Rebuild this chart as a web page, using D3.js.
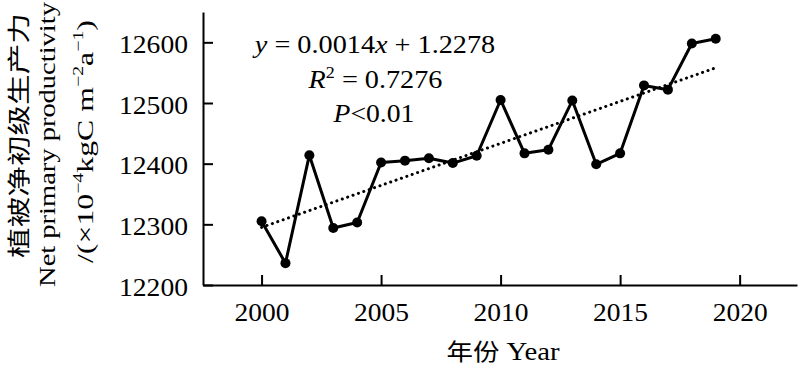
<!DOCTYPE html>
<html><head><meta charset="utf-8">
<script src="https://cdn.jsdelivr.net/npm/d3@7"></script>
<style>
html,body{margin:0;padding:0;background:#fff;}
svg{display:block;}
</style></head>
<body>
<svg id="chart" width="800" height="365"></svg>
<script>
// ---- data ----
const years = [2000,2001,2002,2003,2004,2005,2006,2007,2008,2009,2010,2011,2012,2013,2014,2015,2016,2017,2018,2019];
const npp = [12305,12236,12414,12294,12303,12402,12405,12409,12401,12413,12505,12417,12423,12504,12399,12417,12529,12522,12598,12606];
const trendYears = [2000, 2019];
const trendValues = [12295, 12558];
const xTicks = [2000,2005,2010,2015,2020];
const yTicks = [12200,12300,12400,12500,12600];

const SERIF = '"Liberation Serif", "Times New Roman", serif';
const CJK = '"Noto Sans CJK SC", sans-serif';

const svg = d3.select("#chart");
const x = d3.scaleLinear().domain([1997.55, 2022.4]).range([203, 797]);
const y = d3.scaleLinear().domain([12200, 12650]).range([285, 12]);

function fitWidth(sel, target){
  sel.each(function(){
    const w = this.getBBox().width;
    if (w > 0) d3.select(this).attr("transform", `scale(${target/w},1)`);
  });
}

// axes
const xAxis = svg.append("g").attr("transform", `translate(0,${y(12200)})`)
  .call(d3.axisBottom(x).tickValues(xTicks).tickSize(-10).tickSizeOuter(0).tickFormat(d3.format("d")));
const yAxis = svg.append("g").attr("transform", `translate(${x(1997.55)},0)`)
  .call(d3.axisLeft(y).tickValues(yTicks).tickSize(-10).tickSizeOuter(0).tickFormat(d3.format("d")));
[xAxis, yAxis].forEach(a => {
  a.attr("font-family", null).attr("font-size", null);
  a.select(".domain").attr("stroke", "#000").attr("stroke-width", 2);
  a.selectAll(".tick line").attr("stroke", "#000").attr("stroke-width", 2);
  a.selectAll(".tick text").style("font-family", SERIF).style("font-size", "25px").attr("fill", "#000");
});
xAxis.selectAll(".tick text").attr("y", 0).attr("dy", 36)
  .attr("textLength", 55).attr("lengthAdjust", "spacingAndGlyphs");
yAxis.selectAll(".tick text").attr("x", -15).attr("dy", 10)
  .attr("textLength", 69).attr("lengthAdjust", "spacingAndGlyphs");

// trend line (dotted)
svg.append("path")
  .datum(trendYears.map((d,i) => [d, trendValues[i]]))
  .attr("d", d3.line().x(d => x(d[0])).y(d => y(d[1])))
  .attr("fill", "none").attr("stroke", "#000").attr("stroke-width", 3)
  .attr("stroke-linecap", "round").attr("stroke-dasharray", "0.1 5.6");

// data line
const pts = years.map((d,i) => [d, npp[i]]);
svg.append("path").datum(pts)
  .attr("d", d3.line().x(d => x(d[0])).y(d => y(d[1])))
  .attr("fill", "none").attr("stroke", "#000").attr("stroke-width", 3).attr("stroke-linejoin", "round");
svg.append("g").selectAll("circle").data(pts).join("circle")
  .attr("cx", d => x(d[0])).attr("cy", d => y(d[1])).attr("r", 5).attr("fill", "#000");

// equation text
function eqLine(cx, by, width, build){
  const g = svg.append("g").attr("transform", `translate(${cx},${by})`);
  const t = g.append("text").attr("text-anchor", "middle").style("font-family", SERIF).style("font-size", "25px");
  build(t);
  fitWidth(t, width);
}
eqLine(375, 53, 244, t => {
  t.append("tspan").attr("font-style", "italic").text("y");
  t.append("tspan").text(" = 0.0014");
  t.append("tspan").attr("font-style", "italic").text("x");
  t.append("tspan").text(" + 1.2278");
});
eqLine(375.5, 88, 135, t => {
  t.append("tspan").attr("font-style", "italic").text("R");
  t.append("tspan").style("font-size", "16px").attr("dy", -10).text("2");
  t.append("tspan").attr("dy", 10).text(" = 0.7276");
});
eqLine(374, 122, 82, t => {
  t.append("tspan").attr("font-style", "italic").text("P");
  t.append("tspan").text("<0.01");
});

// x axis title
{
  const g = svg.append("g").attr("transform", "translate(503,360)");
  const t = g.append("text").attr("text-anchor", "middle").style("font-family", SERIF).style("font-size", "25px");
  t.append("tspan").style("font-family", CJK).style("font-size", "23px").text("年份");
  t.append("tspan").text(" Year");
  fitWidth(t, 114);
}

// y axis titles (rotated)
function yLine(bx, cy, len, build){
  const g = svg.append("g").attr("transform", `translate(${bx},${cy}) rotate(-90)`);
  const t = g.append("text").attr("text-anchor", "middle").style("font-family", SERIF);
  build(t);
  fitWidth(t, len);
}
yLine(27, 135.5, 245, t => {
  t.style("font-family", CJK).style("font-size", "23px").text("植被净初级生产力");
});
yLine(55, 144.5, 285, t => {
  t.style("font-size", "24px").text("Net primary productivity");
});
yLine(93, 141.5, 243, t => {
  t.style("font-size", "24px");
  t.append("tspan").text("/(×10");
  t.append("tspan").style("font-size", "15px").attr("dy", -10).text("−4");
  t.append("tspan").attr("dy", 10).text("kgC m");
  t.append("tspan").style("font-size", "15px").attr("dy", -10).text("−2");
  t.append("tspan").attr("dy", 10).text("a");
  t.append("tspan").style("font-size", "15px").attr("dy", -10).text("−1");
  t.append("tspan").attr("dy", 10).text(")");
});
</script>
</body></html>
